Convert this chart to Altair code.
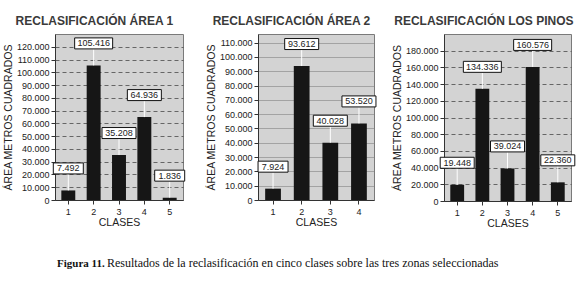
import altair as alt
import pandas as pd

# ---- data ----
clases_1 = [1, 2, 3, 4, 5]
area_1 = [7492, 105416, 35208, 64936, 1836]
clases_2 = [1, 2, 3, 4]
area_2 = [7924, 93612, 40028, 53520]
clases_3 = [1, 2, 3, 4, 5]
area_3 = [19448, 134336, 39024, 160576, 22360]

titulo_1 = "RECLASIFICACIÓN ÁREA 1"
titulo_2 = "RECLASIFICACIÓN ÁREA 2"
titulo_3 = "RECLASIFICACIÓN LOS PINOS"
eje_y = "ÁREA METROS CUADRADOS"
eje_x = "CLASES"
pie_negrita = "Figura 11."
pie_texto = "Resultados de la reclasificación en cinco clases sobre las tres zonas seleccionadas"

SANS = "Liberation Sans"
SERIF = "Liberation Serif"


def panel(clases, areas, titulo, w, h, ymax, ytop, step, dash, gridw, toff):
    df = pd.DataFrame({"clase": clases, "area": areas})
    df["label"] = [f"{v:,}".replace(",", ".") for v in areas]
    df["n"] = [len(s) for s in df["label"]]
    x = alt.X(
        "clase:O",
        title=eje_x,
        scale=alt.Scale(paddingInner=0.45, paddingOuter=0.25),
        axis=alt.Axis(labelAngle=0, grid=False, labelPadding=3, titlePadding=1),
    )
    y = alt.Y(
        "area:Q",
        title=eje_y,
        scale=alt.Scale(domain=[0, ymax], nice=False, zero=True),
        axis=alt.Axis(
            values=list(range(0, ytop + 1, step)),
            labelExpr="replace(format(datum.value, ','), ',', '.')",
            grid=True,
            gridDash=dash,
            gridColor="#4a4a4a",
            gridWidth=gridw,
            titlePadding=3,
            labelPadding=2,
        ),
    )
    base = alt.Chart(df)
    bars = base.mark_bar(color="#161616").encode(x=x, y=y)
    conn = base.mark_rule(color="white", strokeWidth=1, y2Offset=-16).encode(
        x=x, y=y, y2=alt.Y2("area:Q")
    )
    box = base.mark_bar(
        color="white", stroke="#111", strokeWidth=1, opacity=1,
        yOffset=-27.5, y2Offset=-16.5,
    ).encode(
        x=x, y=y, y2=alt.Y2("area:Q"),
        size=alt.Size("n:Q", scale=alt.Scale(domain=[5, 7], range=[30, 38]), legend=None),
    )
    txt = base.mark_text(
        font=SANS, fontSize=9, color="#222", yOffset=-22, baseline="middle"
    ).encode(x=x, y=y, text="label:N")
    return alt.layer(bars, conn, box, txt).properties(
        width=w,
        height=h,
        title=alt.TitleParams(
            titulo, font=SANS, fontSize=12, fontWeight="bold", color="#3a3a3a",
            offset=toff, anchor="middle", frame="bounds",
        ),
        view=alt.ViewBackground(fill="#d3d3d3", stroke="#7a7a7a", strokeWidth=1),
    )


p1 = panel(clases_1, area_1, titulo_1, 128, 166, 130000, 120000, 10000, [4, 3], 0.8, 6)
p2 = panel(clases_2, area_2, titulo_2, 116, 166, 116000, 110000, 10000, [1, 1], 0.7, 6)
p3 = panel(clases_3, area_3, titulo_3, 127, 167, 200000, 180000, 20000, [4, 3], 0.8, 6)

fila = alt.hconcat(p1, alt.hconcat(p2, p3, spacing=14), spacing=19)

cap_df = pd.DataFrame({"a": [0]})
cap_b = alt.Chart(cap_df).mark_text(
    text=pie_negrita, font=SERIF, fontWeight="bold", fontSize=11,
    align="left", baseline="alphabetic", color="#111",
).encode(x=alt.value(2), y=alt.value(38))
cap_t = alt.Chart(cap_df).mark_text(
    text=pie_texto, font=SERIF, fontSize=12,
    align="left", baseline="alphabetic", color="#111",
).encode(x=alt.value(52), y=alt.value(38))
caption = alt.layer(cap_b, cap_t).properties(
    width=450, height=44,
    view=alt.ViewBackground(fillOpacity=0, strokeOpacity=0),
)

chart = alt.vconcat(fila, caption, spacing=0).properties(
    padding={"left": 2, "top": 14, "right": 0, "bottom": 0},
    background="white",
).configure_axis(
    labelFont=SANS, labelFontSize=9, labelColor="#222",
    titleFont=SANS, titleFontSize=10.5, titleFontWeight="normal", titleColor="#222",
    domainColor="#333", tickColor="#333", tickSize=4,
).configure_view(strokeWidth=0)

chart.save("out.html", embed_options={"renderer": "svg", "actions": False})
